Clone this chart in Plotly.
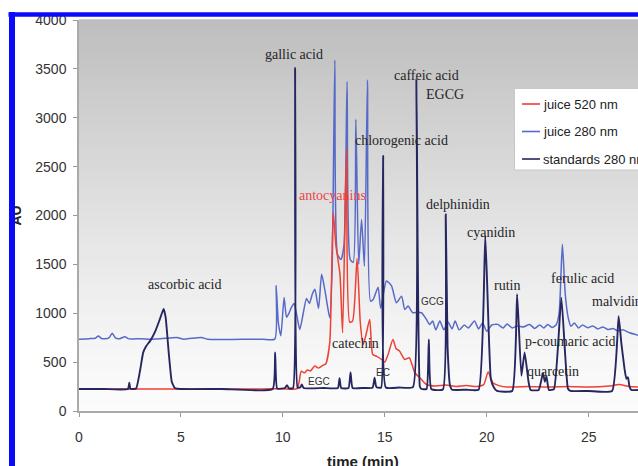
import plotly.graph_objects as go

# ---------------- data ----------------
series_names = ["juice 520 nm", "juice 280 nm", "standards 280 nm"]

red_t = [0.0, 3.0, 6.0, 9.0, 10.0, 10.7, 10.8, 10.9, 11.05, 11.2, 11.35, 11.57, 11.75, 11.98, 12.1, 12.3,
         12.47, 12.6, 12.8, 12.93, 13.12, 13.28, 13.42, 13.64, 13.8, 13.94, 14.1, 14.26, 14.41, 14.59,
         14.84, 15.0, 15.16, 15.4, 15.55, 15.73, 15.98, 16.2, 16.47, 16.72, 17.04, 17.5, 18.0, 18.5,
         19.0, 19.5, 19.85, 20.07, 20.3, 20.6, 21.0, 22.0, 23.0, 24.0, 25.0, 26.0, 26.5, 27.0, 27.42]
red_v = [225, 226, 226, 226, 227, 228, 300, 408, 390, 420, 410, 460, 440, 470, 480, 700,
         2030, 1700, 1400, 800, 2690, 909, 920, 1560, 900, 680, 800, 937, 578, 561,
         527, 500, 578, 732, 640, 612, 527, 545, 391, 340, 271, 255, 265, 250,
         260, 250, 270, 400, 290, 260, 245, 250, 245, 250, 245, 255, 270, 250, 245]

blue_t = [0.0, 0.5, 0.8, 0.95, 1.1, 1.45, 1.63, 1.8, 2.0, 2.25, 2.45, 3.0, 3.5, 4.0, 4.8, 5.1, 6.0, 6.3,
          7.0, 8.0, 9.0, 9.6, 9.67, 9.78, 9.9, 10.06, 10.18, 10.3, 10.42, 10.55, 10.7, 10.83, 11.0,
          11.16, 11.3, 11.45, 11.57, 11.75, 11.9, 12.05, 12.2, 12.3, 12.42, 12.55, 12.68, 12.85, 13.0,
          13.15, 13.3, 13.45, 13.58, 13.72, 13.86, 14.0, 14.15, 14.3, 14.43, 14.67, 14.8, 15.08, 15.33,
          15.57, 15.82, 15.98, 16.14, 16.37, 16.6, 16.8, 17.04, 17.2, 17.35, 17.5, 17.7, 17.9, 18.1,
          18.3, 18.45, 18.65, 18.9, 19.1, 19.4, 19.6, 19.8, 20.0, 20.25, 20.54, 20.8, 21.0, 21.25,
          21.5, 21.8, 22.1, 22.35, 22.6, 22.8, 22.99, 23.2, 23.4, 23.55, 23.71, 23.85, 24.0, 24.13,
          24.3, 24.5, 24.7, 24.95, 25.2, 25.45, 25.7, 25.93, 26.2, 26.42, 26.7, 27.0, 27.42]
blue_v = [735, 740, 745, 768, 742, 745, 795, 745, 740, 760, 738, 740, 735, 738, 752, 735, 752, 735,
          732, 733, 735, 735, 1285, 900, 770, 1160, 960, 1000, 1060, 1100, 960, 834, 1000,
          1150, 1100, 1200, 1245, 1050, 1398, 1250, 1060, 954, 1500, 3590, 1600, 1550, 1700,
          3370, 1550, 1520, 2985, 1500, 1960, 1480, 3385, 1124, 1140, 1265, 1050, 1330, 1280,
          1108, 1175, 1039, 1073, 1005, 1010, 1005, 937, 886, 920, 830, 920, 830, 910,
          840, 920, 830, 880, 850, 920, 840, 900, 817, 880, 886, 850, 890, 850,
          870, 860, 886, 845, 880, 850, 886, 855, 880, 1000, 1705, 1200, 950, 868,
          900, 850, 880, 852, 870, 840, 860, 834, 845, 820, 830, 800, 775]

navy_t = [0.0, 1.2, 2.4, 2.47, 2.52, 2.8, 3.0, 3.15, 3.3, 3.5, 3.75, 3.95, 4.15, 4.25, 4.4, 4.55, 4.7,
          5.0, 7.0, 9.5, 9.62, 9.72, 10.1, 10.2, 10.3, 10.5, 10.6, 10.72, 10.85, 10.93, 11.02, 12.0,
          12.7, 12.78, 12.86, 13.22, 13.32, 13.42, 14.0, 14.4, 14.5, 14.56, 14.62, 14.82, 14.92, 15.05,
          15.7, 16.38, 16.55, 16.72, 16.8, 17.05, 17.16, 17.28, 17.85, 17.99, 18.08, 18.2, 18.3, 19.0,
          19.6, 19.93, 20.2, 20.35, 20.5, 21.25, 21.49, 21.7, 21.86, 22.05, 22.15, 22.55, 22.76, 22.85,
          22.93, 23.05, 23.3, 23.66, 23.98, 24.1, 25.0, 26.15, 26.47, 26.6, 26.76, 26.85, 26.93, 27.0,
          27.1, 27.42]
navy_v = [225, 225, 225, 290, 228, 230, 420, 600, 665, 720, 820, 930, 1045, 960, 600, 300, 235,
          225, 225, 225, 600, 230, 235, 265, 232, 235, 3510, 240, 240, 272, 235, 235,
          235, 335, 235, 235, 395, 235, 236, 237, 340, 260, 240, 240, 2610, 240,
          240, 245, 3395, 250, 225, 225, 732, 225, 220, 2010, 650, 260, 218, 218,
          218, 1790, 330, 240, 205, 205, 1195, 360, 600, 300, 215, 215, 390, 300,
          355, 215, 225, 1160, 230, 205, 205, 205, 970, 700, 430, 330, 345, 250,
          215, 215]

x_ticks = [0, 5, 10, 15, 20, 25]
y_ticks = [0, 500, 1000, 1500, 2000, 2500, 3000, 3500, 4000]
x_title = "time (min)"
y_title = "AU"

peak_labels = ["gallic acid", "caffeic acid", "EGCG", "chlorogenic acid", "antocyanins", "delphinidin",
               "cyanidin", "rutin", "ferulic acid", "p-coumaric acid", "quarcetin", "ascorbic acid",
               "catechin"]
small_labels = ["EGC", "EC", "GCG"]

# ---------------- layout / style ----------------
W, H = 638, 466
ML, MR, MT, MB = 79, 0, 20, 55
def px(x):
    return (x - ML) / (W - ML - MR)
def py(y):
    return (H - MB - y) / (H - MT - MB)

c_red = "rgb(238,64,52)"
c_blue = "rgb(88,106,200)"
c_navy = "rgb(38,38,96)"

fig = go.Figure()
fig.add_trace(go.Scatter(x=blue_t, y=blue_v, mode="lines", name=series_names[1],
                         line=dict(color=c_blue, width=1.5, shape="spline", smoothing=0.6),
                         showlegend=False))
fig.add_trace(go.Scatter(x=red_t, y=red_v, mode="lines", name=series_names[0],
                         line=dict(color=c_red, width=1.5, shape="spline", smoothing=0.6),
                         showlegend=False))
fig.add_trace(go.Scatter(x=navy_t, y=navy_v, mode="lines", name=series_names[2],
                         line=dict(color=c_navy, width=1.9, shape="spline", smoothing=0.4),
                         showlegend=False))

shapes = []
# gradient plot background
N = 70
for i in range(N):
    f = (i + 0.5) / N            # 0 bottom .. 1 top
    g = int(round(252 - 63 * (f ** 1.25)))
    shapes.append(dict(type="rect", xref="paper", yref="paper", x0=0, x1=1,
                       y0=i / N, y1=(i + 1) / N + 0.002, line=dict(width=0),
                       fillcolor=f"rgb({g},{g},{g})", layer="below"))
# legend box
shapes.append(dict(type="rect", xref="paper", yref="paper", x0=px(514.5), x1=px(660),
                   y0=py(170), y1=py(88.5), fillcolor="white",
                   line=dict(color="rgb(200,200,200)", width=1), layer="above"))
leg_cols = [c_red, c_blue, c_navy]
leg_rows = [104, 131.5, 159]
for col, ry in zip(leg_cols, leg_rows):
    shapes.append(dict(type="line", xref="paper", yref="paper", x0=px(522), x1=px(540),
                       y0=py(ry), y1=py(ry), line=dict(color=col, width=1.6), layer="above"))
# blue frame (top bar)
shapes.append(dict(type="rect", xref="paper", yref="paper", x0=px(8.5), x1=px(645),
                   y0=py(16.8), y1=py(12.2), fillcolor="rgb(10,10,250)", line=dict(width=0),
                   layer="above"))

annotations = []
serif = dict(family="Liberation Serif, Times New Roman, serif", size=14, color="#262626")
label_pos = [(10.54, 3650), (17.03, 3435), (17.93, 3241), (15.82, 2763), (12.43, 2207),
             (18.59, 2115), (20.21, 1825), (21.0, 1285), (24.7, 1354), (24.11, 715),
             (23.27, 408), (5.16, 1295), (13.57, 691)]
for name, (lx, ly) in zip(peak_labels, label_pos):
    fnt = dict(serif)
    if name == "antocyanins":
        fnt["color"] = "rgb(232,70,70)"
    annotations.append(dict(x=lx, y=ly, xref="x", yref="y", text=name, showarrow=False,
                            font=fnt, xanchor="center", yanchor="middle"))
annotations.append(dict(x=25.08, y=1124, xref="x", yref="y", text="malvidin", showarrow=False,
                        font=serif, xanchor="left", yanchor="middle"))
small_pos = [(11.79, 305), (14.92, 391), (17.35, 1124)]
for name, (lx, ly) in zip(small_labels, small_pos):
    annotations.append(dict(x=lx, y=ly, xref="x", yref="y", text=name, showarrow=False,
                            font=dict(family="Liberation Sans, Arial", size=10, color="#333"),
                            xanchor="center", yanchor="middle"))
# manual legend texts
for nm, ry in zip(series_names, leg_rows):
    annotations.append(dict(x=px(541), y=py(ry), xref="paper", yref="paper", text=nm,
                            showarrow=False, xanchor="left", yanchor="middle",
                            font=dict(family="Liberation Sans, Arial", size=13, color="#222")))
# x-axis title (sits partly below the picture edge, as in the original crop)
annotations.append(dict(x=px(363), y=py(462), xref="paper", yref="paper",
                        text=f"<b>{x_title}</b>", showarrow=False, xanchor="center",
                        yanchor="middle",
                        font=dict(family="Liberation Sans, Arial", size=15, color="#222")))
# y-axis title and the left blue frame bar drawn over it
annotations.append(dict(x=px(15.5), y=py(216), xref="paper", yref="paper", text=f"<b>{y_title}</b>",
                        textangle=-90, showarrow=False, xanchor="center", yanchor="middle",
                        font=dict(family="Liberation Sans, Arial", size=14, color="#222")))
annotations.append(dict(x=px(8.5), y=py(12.2), xref="paper", yref="paper", text=" ",
                        showarrow=False, xanchor="left", yanchor="top", width=6, height=470,
                        bgcolor="rgb(10,10,250)", borderpad=0, borderwidth=0))

fig.update_layout(
    width=W, height=H,
    margin=dict(l=ML, r=MR, t=MT, b=MB, autoexpand=False),
    paper_bgcolor="white", plot_bgcolor="rgba(0,0,0,0)",
    showlegend=False,
    shapes=shapes, annotations=annotations,
    font=dict(family="Liberation Sans, Arial", size=14, color="#333"),
)
fig.update_xaxes(range=[0, 27.42], tickvals=x_ticks, ticks="outside", ticklen=4,
                 tickcolor="#999", showline=True, linecolor="#aaa", linewidth=1.5,
                 showgrid=False, zeroline=False, ticklabelstandoff=8)
fig.update_yaxes(range=[0, 4000], tickvals=y_ticks, ticks="outside", ticklen=4,
                 tickcolor="#999", showline=True, linecolor="#aaa", linewidth=1.5,
                 showgrid=False, zeroline=False, ticklabelstandoff=4)

fig.write_html("out.html")
